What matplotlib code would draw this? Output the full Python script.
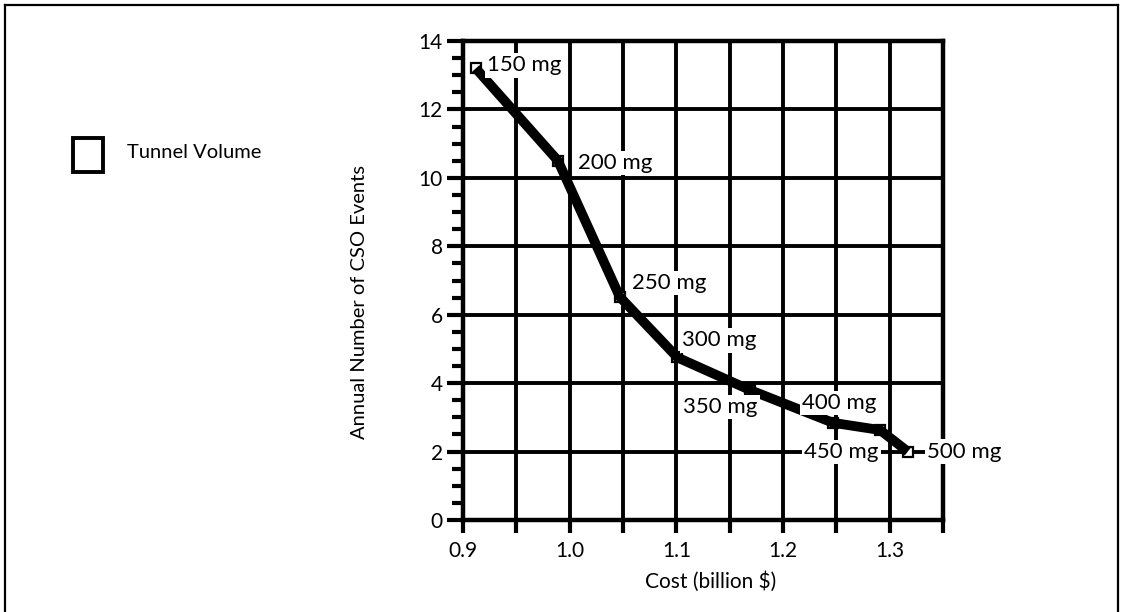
import matplotlib
matplotlib.use("Agg")
import matplotlib.pyplot as plt
from matplotlib.patches import Rectangle
from matplotlib.lines import Line2D
import numpy as np

# ---- data ----
cost = [0.912, 0.989, 1.047, 1.101, 1.169, 1.247, 1.291, 1.317]
events = [13.2, 10.5, 6.52, 4.75, 3.8, 2.84, 2.63, 2.0]
volume_labels = ["150 mg", "200 mg", "250 mg", "300 mg", "350 mg", "400 mg", "450 mg", "500 mg"]
x_ticks = [0.9, 1.0, 1.1, 1.2, 1.3]
x_tick_labels = ["0.9", "1.0", "1.1", "1.2", "1.3"]
y_ticks = [0, 2, 4, 6, 8, 10, 12, 14]
legend_label = "Tunnel Volume"
x_label = "Cost (billion $)"
y_label = "Annual Number of CSO Events"

# label offsets in pixels (layout only)
label_offsets = [(11, 3), (20, -2), (12, 14), (5, 17), (-67, -17), (-31, 20), (-76, -22), (19, 0)]

plt.rcParams['font.family'] = ['Lato', 'DejaVu Sans']

W, H = 1123, 612
fig = plt.figure(figsize=(W / 100, H / 100), dpi=100)
ax = fig.add_axes([463 / W, 1 - 520 / H, 480 / W, 479 / H])

ax.set_xlim(0.9, 1.35)
ax.set_ylim(0, 14)

# grid lines
for xv in np.arange(0.95, 1.35 - 1e-9, 0.05):
    ax.axvline(xv, color='black', lw=2.8, zorder=1)
for yv in y_ticks[1:-1]:
    ax.axhline(yv, color='black', lw=2.8, zorder=1)

for s in ax.spines.values():
    s.set_linewidth(3.2)
    s.set_zorder(2)

ax.set_xticks(x_ticks)
ax.set_xticklabels(x_tick_labels)
ax.set_xticks(np.arange(0.95, 1.36, 0.1), minor=True)
ax.set_yticks(y_ticks)
ax.set_yticks(np.arange(0, 14.01, 0.5), minor=True)

ax.tick_params(axis='x', which='both', direction='out', length=9, width=3, pad=6, labelsize=15)
ax.tick_params(axis='y', which='major', direction='out', length=11.5, width=3, pad=3, labelsize=15)
ax.tick_params(axis='y', which='minor', direction='out', length=8, width=3)

# squares beneath line
ax.plot(cost, events, linestyle='none', marker='s', ms=7, mfc='white', mec='black', mew=1.6,
        zorder=3, clip_on=False)
ax.plot(cost, events, color='black', lw=7, solid_capstyle='butt', solid_joinstyle='round', zorder=4)

for xv, yv, lab, (dx, dy) in zip(cost, events, volume_labels, label_offsets):
    ax.annotate(lab, (xv, yv), xytext=(dx, dy), textcoords='offset pixels',
                ha='left', va='center', fontsize=16, zorder=6, annotation_clip=False,
                bbox=dict(boxstyle='square,pad=0.1', fc='white', ec='none'))

ax.set_xlabel(x_label, fontsize=15)
ax.set_ylabel(y_label, fontsize=14.5)
ax.xaxis.set_label_coords(0.515, -0.106)
ax.yaxis.set_label_coords(-0.197, 0.455)

# legend
fig.add_artist(Rectangle((73 / W, 1 - 172 / H), 30 / W, 34 / H, transform=fig.transFigure,
                         fill=False, ec='black', lw=2.8))
fig.text(127 / W, 1 - 152 / H, legend_label, ha='left', va='center', fontsize=14.5)

# outer frame
fig.add_artist(Line2D([5 / W, 5 / W], [0, 1 - 5 / H], transform=fig.transFigure, color='black', lw=1.6))
fig.add_artist(Line2D([5 / W, 1118 / W], [1 - 5 / H, 1 - 5 / H], transform=fig.transFigure, color='black', lw=1.6))
fig.add_artist(Line2D([1118 / W, 1118 / W], [0, 1 - 5 / H], transform=fig.transFigure, color='black', lw=1.6))

fig.savefig("out.png", dpi=100)
